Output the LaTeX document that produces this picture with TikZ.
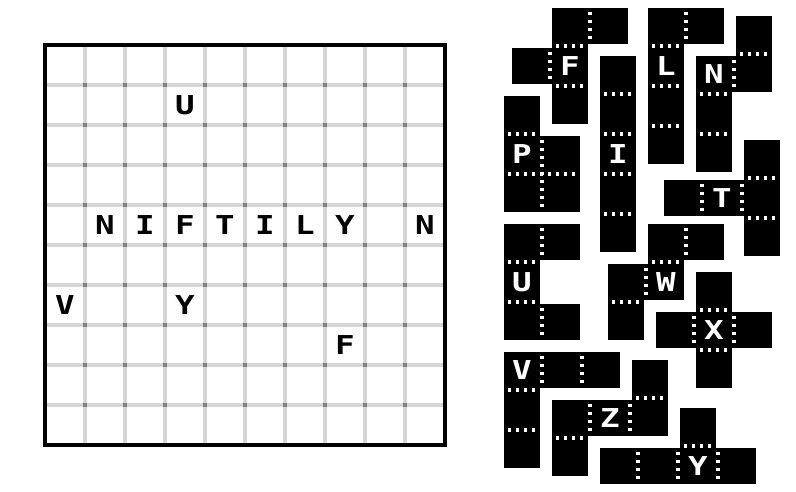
\documentclass[tikz,border=0pt]{standalone}
\usepackage{fontspec}
\newfontfamily\pixelfont{DejaVu Sans Mono}[FakeStretch=1.25]
\definecolor{gridgray}{HTML}{D6D6D6}
\definecolor{knotgray}{HTML}{808080}
\tikzset{
    piece/.style={fill=black, draw=white, line width=4pt},
    seam/.style={draw=white, line width=3.3pt, dash pattern=on 3.4pt off 4.6pt},
    tile/.style={text=white, inner sep=0pt, font=\pixelfont\bfseries\fontsize{26}{26}\selectfont},
    clue/.style={text=black, inner sep=0pt, font=\pixelfont\bfseries\fontsize{26}{26}\selectfont},
    gridline/.style={draw=gridgray, line width=3.3pt}
}

\begin{document}
\begin{tikzpicture}[x=1pt, y=-1pt]
    \useasboundingbox (0,0) rectangle (796,492);

    \foreach \i in {1,...,9}{
        \draw[gridline] (45+40*\i,45) -- (45+40*\i,445);
        \draw[gridline] (45,45+40*\i) -- (445,45+40*\i);
    }
    \foreach \i in {1,...,9}{
        \foreach \j in {1,...,9}{
            \fill[knotgray] (43.4+40*\i,43.4+40*\j) rectangle ++(3.2,3.2);
        }
    }
    \draw[line width=3.5pt] (45,45) rectangle (445,445);

    \foreach \c/\r/\t [count=\k] in {3/1/U, 1/4/N, 2/4/I, 3/4/F, 4/4/T, 5/4/I,
            6/4/L, 7/4/Y, 9/4/N, 0/6/V, 3/6/Y, 7/7/F}{
        \node[clue] (c\k) at (65+40*\c,65+40*\r) {\t};
    }

    \begin{scope}[shift={(510,6)}, x=40pt, y=-40pt]
        \path[piece] (1,0) -- (3,0) -- (3,1) -- (2,1) -- (2,3) -- (1,3) -- (1,2) -- (0,2) -- (0,1) -- (1,1) -- cycle;
        \draw[seam] (2,0.15) -- (2,0.85) (1.15,1) -- (1.85,1) (1,1.15) -- (1,1.85) (1.15,2) -- (1.85,2);
        \node[tile] (F) at (1.5,1.5) {F};
    \end{scope}

    \begin{scope}[shift={(598,54)}, x=40pt, y=-40pt]
        \path[piece] (0,0) -- (1,0) -- (1,5) -- (0,5) -- cycle;
        \foreach \y in {1,...,4}{
            \draw[seam] (0.15,\y) -- (0.85,\y);
        }
        \node[tile] (I) at (0.5,2.5) {I};
    \end{scope}

    \begin{scope}[shift={(646,6)}, x=40pt, y=-40pt]
        \path[piece] (0,0) -- (2,0) -- (2,1) -- (1,1) -- (1,4) -- (0,4) -- cycle;
        \draw[seam] (1,0.15) -- (1,0.85);
        \foreach \y in {1,...,3}{
            \draw[seam] (0.15,\y) -- (0.85,\y);
        }
        \node[tile] (L) at (0.5,1.5) {L};
    \end{scope}

    \begin{scope}[shift={(694,14)}, x=40pt, y=-40pt]
        \path[piece] (1,0) -- (2,0) -- (2,2) -- (1,2) -- (1,4) -- (0,4) -- (0,1) -- (1,1) -- cycle;
        \draw[seam] (1.15,1) -- (1.85,1) (1,1.15) -- (1,1.85) (0.15,2) -- (0.85,2) (0.15,3) -- (0.85,3);
        \node[tile] (N) at (0.5,1.5) {N};
    \end{scope}

    \begin{scope}[shift={(502,94)}, x=40pt, y=-40pt]
        \path[piece] (0,0) -- (1,0) -- (1,1) -- (2,1) -- (2,3) -- (0,3) -- cycle;
        \draw[seam] (0.15,1) -- (0.85,1) (0.15,2) -- (1.85,2) (1,1.15) -- (1,2.85);
        \node[tile] (P) at (0.5,1.5) {P};
    \end{scope}

    \begin{scope}[shift={(662,138)}, x=40pt, y=-40pt]
        \path[piece] (2,0) -- (3,0) -- (3,3) -- (2,3) -- (2,2) -- (0,2) -- (0,1) -- (2,1) -- cycle;
        \draw[seam] (1,1.15) -- (1,1.85) (2,1.15) -- (2,1.85) (2.15,1) -- (2.85,1) (2.15,2) -- (2.85,2);
        \node[tile] (T) at (1.5,1.5) {T};
    \end{scope}

    \begin{scope}[shift={(502,222)}, x=40pt, y=-40pt]
        \path[piece] (0,0) -- (2,0) -- (2,1) -- (1,1) -- (1,2) -- (2,2) -- (2,3) -- (0,3) -- cycle;
        \draw[seam] (1,0.15) -- (1,0.85) (0.15,1) -- (0.85,1) (0.15,2) -- (0.85,2) (1,2.15) -- (1,2.85);
        \node[tile] (U) at (0.5,1.5) {U};
    \end{scope}

    \begin{scope}[shift={(606,222)}, x=40pt, y=-40pt]
        \path[piece] (1,0) -- (3,0) -- (3,1) -- (2,1) -- (2,2) -- (1,2) -- (1,3) -- (0,3) -- (0,1) -- (1,1) -- cycle;
        \draw[seam] (2,0.15) -- (2,0.85) (1.15,1) -- (1.85,1) (1,1.15) -- (1,1.85) (0.15,2) -- (0.85,2);
        \node[tile] (W) at (1.5,1.5) {W};
    \end{scope}

    \begin{scope}[shift={(654,270)}, x=40pt, y=-40pt]
        \path[piece] (1,0) -- (2,0) -- (2,1) -- (3,1) -- (3,2) -- (2,2) -- (2,3) -- (1,3) -- (1,2) -- (0,2) -- (0,1) -- (1,1) -- cycle;
        \draw[seam] (1.15,1) -- (1.85,1) (1.15,2) -- (1.85,2) (1,1.15) -- (1,1.85) (2,1.15) -- (2,1.85);
        \node[tile] (X) at (1.5,1.5) {X};
    \end{scope}

    \begin{scope}[shift={(502,350)}, x=40pt, y=-40pt]
        \path[piece] (0,0) -- (3,0) -- (3,1) -- (1,1) -- (1,3) -- (0,3) -- cycle;
        \draw[seam] (1,0.15) -- (1,0.85) (2,0.15) -- (2,0.85) (0.15,1) -- (0.85,1) (0.15,2) -- (0.85,2);
        \node[tile] (V) at (0.5,0.5) {V};
    \end{scope}

    \begin{scope}[shift={(550,358)}, x=40pt, y=-40pt]
        \path[piece] (2,0) -- (3,0) -- (3,2) -- (1,2) -- (1,3) -- (0,3) -- (0,1) -- (2,1) -- cycle;
        \draw[seam] (2.15,1) -- (2.85,1) (1,1.15) -- (1,1.85) (2,1.15) -- (2,1.85) (0.15,2) -- (0.85,2);
        \node[tile] (Z) at (1.5,1.5) {Z};
    \end{scope}

    \begin{scope}[shift={(598,406)}, x=40pt, y=-40pt]
        \path[piece] (2,0) -- (3,0) -- (3,1) -- (4,1) -- (4,2) -- (0,2) -- (0,1) -- (2,1) -- cycle;
        \foreach \x in {1,2,3}{
            \draw[seam] (\x,1.15) -- (\x,1.85);
        }
        \draw[seam] (2.15,1) -- (2.85,1);
        \node[tile] (Y) at (2.5,1.5) {Y};
    \end{scope}
\end{tikzpicture}
\end{document}
